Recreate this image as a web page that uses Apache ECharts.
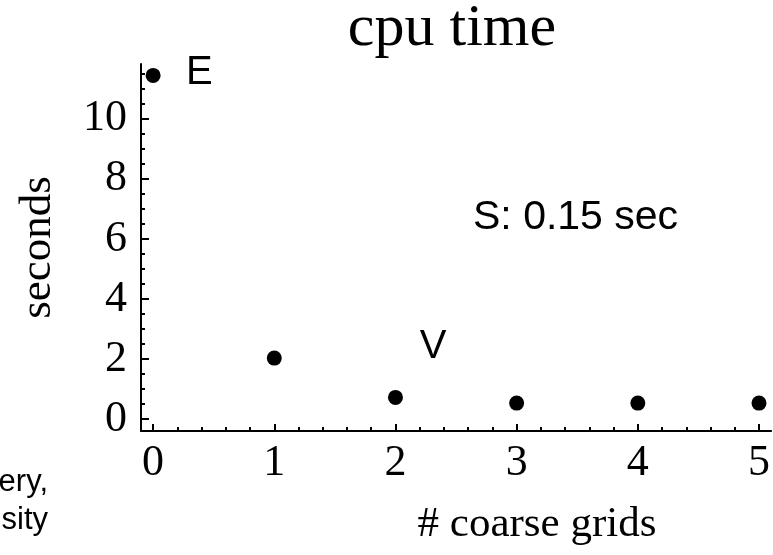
<!DOCTYPE html>
<html>
<head>
<meta charset="utf-8">
<script src="https://cdn.jsdelivr.net/npm/echarts@6/dist/echarts.min.js"></script>
<style>
html,body{margin:0;padding:0;background:#fff;}
#chart{width:773px;height:555px;}
</style>
</head>
<body>
<div id="chart"></div>
<script>
// ---- data ----
const coarseGrids = [0, 1, 2, 3, 4, 5];
const cpuSeconds = [11.45, 2.03, 0.72, 0.53, 0.53, 0.53];
const xMajorTicks = [0, 1, 2, 3, 4, 5];
const xMinorTicks = [0.2, 0.4, 0.6, 0.8, 1.2, 1.4, 1.6, 1.8, 2.2, 2.4, 2.6, 2.8, 3.2, 3.4, 3.6, 3.8, 4.2, 4.4, 4.6, 4.8];
const yMajorTicks = [0, 2, 4, 6, 8, 10];
const yMinorTicks = [0.5, 1, 1.5, 2.5, 3, 3.5, 4.5, 5, 5.5, 6.5, 7, 7.5, 8.5, 9, 9.5, 10.5, 11, 11.5];
const titleText = 'cpu time';
const xName = '# coarse grids';
const yName = 'seconds';

const serif = '"Liberation Serif", "Times New Roman", serif';
const sans = '"Liberation Sans", Arial, sans-serif';

const chart = echarts.init(document.getElementById('chart'));
const axisCommon = {
  type: 'value', splitLine: {show: false}
};
chart.setOption({
  animation: false,
  backgroundColor: '#fff',
  grid: {left: 141, top: 64, width: 631, height: 367},
  xAxis: [
    Object.assign({}, axisCommon, {
      min: -0.1, max: 5.1, position: 'bottom',
      axisLine: {show: true, onZero: false, lineStyle: {color: '#000', width: 2}},
      axisTick: {show: true, inside: true, length: 7, customValues: xMajorTicks, lineStyle: {color: '#000', width: 2}},
      axisLabel: {show: true, customValues: xMajorTicks, margin: 10, color: '#000', fontFamily: serif, fontSize: 44}
    }),
    Object.assign({}, axisCommon, {
      min: -0.1, max: 5.1, position: 'bottom',
      axisLine: {show: false, onZero: false},
      axisTick: {show: true, inside: true, length: 4, customValues: xMinorTicks, lineStyle: {color: '#000', width: 2}},
      axisLabel: {show: false}
    })
  ],
  yAxis: [
    Object.assign({}, axisCommon, {
      min: -0.4, max: 11.83, position: 'left',
      name: yName, nameLocation: 'middle', nameRotate: 90, nameGap: 80,
      nameTextStyle: {fontFamily: serif, fontSize: 45, color: '#000'},
      axisLine: {show: true, onZero: false, lineStyle: {color: '#000', width: 2}},
      axisTick: {show: true, inside: true, length: 8, customValues: yMajorTicks, lineStyle: {color: '#000', width: 2}},
      axisLabel: {show: true, customValues: yMajorTicks, margin: 14, color: '#000', fontFamily: serif, fontSize: 44}
    }),
    Object.assign({}, axisCommon, {
      min: -0.4, max: 11.83, position: 'left',
      axisLine: {show: false, onZero: false},
      axisTick: {show: true, inside: true, length: 4, customValues: yMinorTicks, lineStyle: {color: '#000', width: 2}},
      axisLabel: {show: false}
    })
  ],
  series: [{
    type: 'scatter',
    xAxisIndex: 0, yAxisIndex: 0,
    data: coarseGrids.map((g, i) => [g, cpuSeconds[i]]),
    symbol: 'circle', symbolSize: 15,
    itemStyle: {color: '#000', opacity: 1}
  }],
  graphic: [
    {type: 'text', x: 452, y: 29, style: {text: titleText, font: '60px ' + serif, fill: '#000', textAlign: 'center', textVerticalAlign: 'middle'}},
    {type: 'text', x: 537, y: 525, style: {text: xName, font: '43px ' + serif, fill: '#000', textAlign: 'center', textVerticalAlign: 'middle'}},
    {type: 'text', x: 186, y: 73, style: {text: 'E', font: '40px ' + sans, fill: '#000', textAlign: 'left', textVerticalAlign: 'middle'}},
    {type: 'text', x: 433, y: 347, style: {text: 'V', font: '40px ' + sans, fill: '#000', textAlign: 'center', textVerticalAlign: 'middle'}},
    {type: 'text', x: 473, y: 218, style: {text: 'S: 0.15 sec', font: '41px ' + sans, fill: '#000', textAlign: 'left', textVerticalAlign: 'middle'}},
    {type: 'text', x: 48, y: 482, style: {text: 'ery,', font: '31px ' + sans, fill: '#000', textAlign: 'right', textVerticalAlign: 'middle'}},
    {type: 'text', x: 48, y: 520, style: {text: 'sity', font: '31px ' + sans, fill: '#000', textAlign: 'right', textVerticalAlign: 'middle'}}
  ]
});
</script>
</body>
</html>
